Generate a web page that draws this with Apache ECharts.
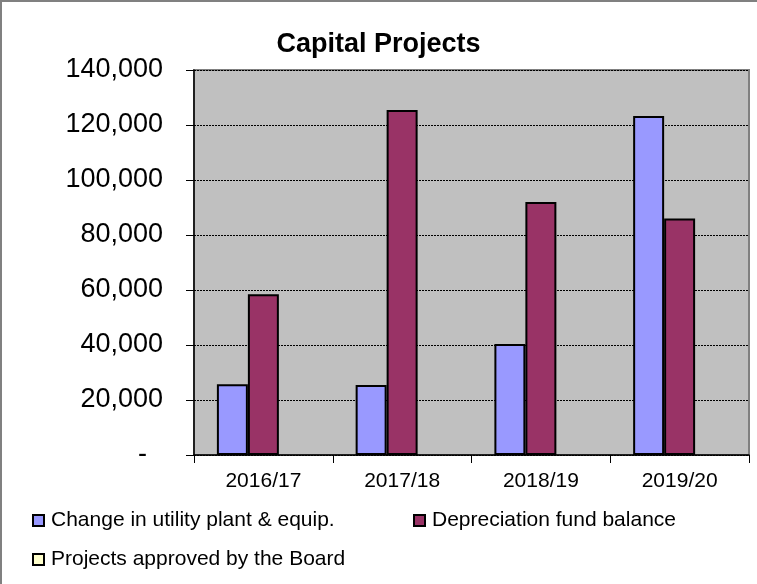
<!DOCTYPE html>
<html>
<head>
<meta charset="utf-8">
<script src="https://cdn.jsdelivr.net/npm/echarts@6/dist/echarts.min.js"></script>
<style>
html,body{margin:0;padding:0;background:#fff;}
#chart{width:757px;height:584px;}
</style>
</head>
<body>
<div id="chart"></div>
<script>
const categories = ['2016/17', '2017/18', '2018/19', '2019/20'];
const plantEquip = [25700, 25500, 40400, 123300];
const depreciationFund = [58500, 125500, 92000, 86000];
const projectsApproved = [null, null, null, null];
const seriesNames = ['Change in utility plant & equip.', 'Depreciation fund balance', 'Projects approved by the Board'];
const yTicks = [0, 20000, 40000, 60000, 80000, 100000, 120000, 140000];

const FONT = "'Liberation Sans', Arial, sans-serif";
const chart = echarts.init(document.getElementById('chart'), null, {renderer: 'canvas'});

function fmt(v) {
  if (v === 0) return '{d|-}';
  return v.toLocaleString('en-US');
}

const legendCommon = {
  icon: 'rect',
  itemWidth: 11,
  itemHeight: 11,
  itemGap: 0,
  textStyle: {fontFamily: FONT, fontSize: 21, color: '#000', padding: [0, 0, 0, 2]},
  selectedMode: false
};

chart.setOption({
  animation: false,
  backgroundColor: '#ffffff',
  title: {
    text: 'Capital Projects',
    left: 'center',
    top: 26,
    textStyle: {fontFamily: FONT, fontSize: 27, fontWeight: 'bold', color: '#000', lineHeight: 27}
  },
  graphic: [{
    type: 'rect',
    shape: {x: 1, y: 1, width: 900, height: 900},
    style: {fill: null, stroke: '#808080', lineWidth: 2},
    silent: true
  }],
  legend: [
    Object.assign({data: [seriesNames[0]], left: 27, top: 505}, legendCommon),
    Object.assign({data: [seriesNames[1]], left: 408, top: 505}, legendCommon),
    Object.assign({data: [seriesNames[2]], left: 27, top: 544}, legendCommon)
  ],
  grid: {
    left: 194, right: 8, top: 70, bottom: 129,
    show: true,
    backgroundColor: '#C0C0C0',
    borderColor: '#808080',
    borderWidth: 2
  },
  xAxis: {
    type: 'category',
    data: categories,
    boundaryGap: true,
    axisLine: {lineStyle: {color: '#000', width: 1.5}},
    axisTick: {show: true, length: 8, inside: false, lineStyle: {color: '#000'}},
    axisLabel: {fontFamily: FONT, fontSize: 21, color: '#000', margin: 16}
  },
  yAxis: {
    type: 'value',
    min: yTicks[0],
    max: yTicks[yTicks.length - 1],
    interval: yTicks[1] - yTicks[0],
    axisLine: {show: true, lineStyle: {color: '#000', width: 1.5}},
    axisTick: {show: true, length: 8, inside: false, lineStyle: {color: '#000'}},
    splitLine: {show: true, lineStyle: {color: '#000', type: [2, 1], width: 1}},
    axisLabel: {
      fontFamily: FONT, fontSize: 27, color: '#000', margin: 31,
      formatter: fmt,
      rich: {d: {fontFamily: FONT, fontSize: 27, color: '#000', padding: [0, 16, 0, 0]}}
    }
  },
  series: [
    {
      name: seriesNames[0], type: 'bar', data: plantEquip,
      barGap: '0%', barCategoryGap: '33%',
      itemStyle: {color: '#9999FF', borderColor: '#000', borderWidth: 2}
    },
    {
      name: seriesNames[1], type: 'bar', data: depreciationFund,
      barGap: '0%', barCategoryGap: '33%',
      itemStyle: {color: '#993366', borderColor: '#000', borderWidth: 2}
    },
    {
      name: seriesNames[2], type: 'bar', data: projectsApproved,
      barGap: '0%', barCategoryGap: '33%',
      itemStyle: {color: '#FFFFCC', borderColor: '#000', borderWidth: 2}
    }
  ]
});
</script>
</body>
</html>
